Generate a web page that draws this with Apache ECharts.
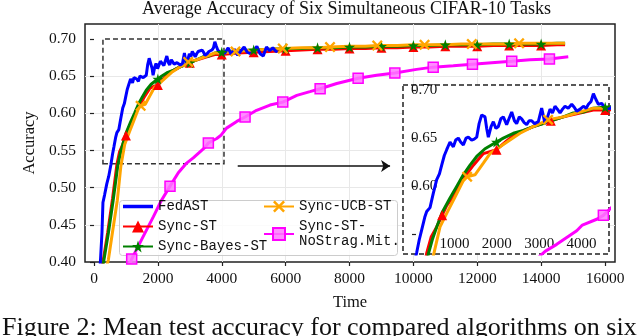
<!DOCTYPE html>
<html>
<head>
<meta charset="UTF-8">
<title>Average Accuracy</title>
<script src="https://cdn.jsdelivr.net/npm/echarts@6/dist/echarts.min.js"></script>
</head>
<body style="margin:0">
<div id="main" style="width: 640px;height:336px;"></div>
<script type="text/javascript">
// tick labels
var xTicks = [0, 2000, 4000, 6000, 8000, 10000, 12000, 14000, 16000];
var yTicks = [0.40, 0.45, 0.50, 0.55, 0.60, 0.65, 0.70];
var insetYTicks = [0.55, 0.60, 0.65, 0.70];
var insetYLabels = [0.60, 0.65, 0.70];
var insetXLabels = [1000, 2000, 3000, 4000];

// zoomed region and arrow (data coordinates)
var insetRangeX = [280, 4070];
var insetRangeY = [0.530, 0.705];
var boxY = [0.532, 0.70];
var arrowX = [4500, 9270];
var arrowY = 0.529;

// FedAST
var fedX = [150,200,250,280,330,400,460,530,580,624,680,716,777,838,900,950,992,1040,1084,1145,
  1206,1250,1298,1340,1390,1440,1482,1543,1590,1636,1680,1728,1789,1820,1850,1900,1942,1990,2034,2080,
  2126,2187,2230,2280,2330,2371,2420,2463,2510,2555,2600,2647,2700,2770,2831,2893,2940,2985,3030,3077,
  3120,3169,3215,3261,3320,3384,3430,3476,3540,3599,3650,3691,3740,3783,3830,3875,3937,3998,4100,4200,
  4300,4400,4500,4600,4700,4800,4900,5000,5100,5200,5300,5400,5500,5600,5700,5750];
var fedY = [0.37,0.40,0.44,0.48,0.49,0.505,0.515,0.531,0.545,0.555,0.568,0.574,0.578,0.593,0.607,0.613,0.622,0.632,0.638,0.646,
  0.641,0.648,0.650,0.646,0.643,0.650,0.651,0.648,0.649,0.651,0.665,0.674,0.672,0.660,0.651,0.662,0.667,0.660,0.662,0.670,
  0.672,0.664,0.670,0.677,0.668,0.665,0.672,0.670,0.666,0.664,0.668,0.668,0.665,0.667,0.681,0.665,0.672,0.680,0.676,0.683,
  0.680,0.676,0.680,0.683,0.681,0.685,0.682,0.678,0.680,0.683,0.681,0.685,0.688,0.696,0.690,0.685,0.686,0.680,0.681,0.688,
  0.679,0.686,0.678,0.684,0.689,0.682,0.680,0.684,0.690,0.680,0.677,0.689,0.684,0.688,0.683,0.684];

// Sync-ST
var stX = [200,280,430,580,716,800,900,1000,1084,1206,1390,1575,1758,2000,2187,2371,2678,3000,3230,3537,3782,4000,
  4500,5000,5500,6000,6500,7000,7500,8000,8500,9000,9500,10000,10500,11000,11500,12000,12500,13000,13500,14000,14500,14750];
var stY = [0.375,0.40,0.44,0.485,0.531,0.548,0.558,0.570,0.580,0.590,0.608,0.622,0.634,0.638,0.647,0.655,0.662,0.668,0.672,0.676,0.679,0.679,
  0.681,0.682,0.683,0.684,0.685,0.686,0.686,0.687,0.687,0.688,0.688,0.689,0.689,0.690,0.690,0.690,0.691,0.691,0.691,0.691,0.692,0.692];
var stMarks = [1000,2000,3000,4000,5000,6000,7000,8000,9000,10000,11000,12000,13000,14000];
var stInsetMarks = [1000,2000,3000,4000];

// Sync-Bayes-ST
var bayesX = [200,300,450,600,746,820,900,1000,1145,1268,1390,1513,1636,1789,2000,2126,2310,2494,2678,2862,3000,3230,3414,3598,3782,4000,
  4500,5000,5500,6000,6500,7000,7500,8000,8500,9000,9500,10000,10500,11000,11500,12000,12500,13000,13500,14000,14500,14750];
var bayesY = [0.37,0.40,0.439,0.483,0.530,0.545,0.558,0.573,0.588,0.600,0.612,0.622,0.631,0.639,0.646,0.650,0.655,0.658,0.662,0.665,0.668,0.672,0.676,0.677,0.681,0.682,
  0.684,0.685,0.686,0.687,0.687,0.688,0.688,0.689,0.689,0.690,0.690,0.691,0.691,0.692,0.692,0.692,0.693,0.693,0.693,0.693,0.694,0.694];
var bayesMarks = [2000,3000,4000,5000,6000,7000,8000,9000,10000,11000,12000,13000,14000];
var bayesInsetMarks = [2000,4000];

// Sync-UCB-ST
var ucbX = [250,450,575,730,838,961,1084,1237,1390,1460,1605,1758,1881,2065,2249,2433,2678,2950,3230,3537,3782,4000,
  4430,5000,5500,5910,6500,7000,7390,8000,8500,8870,9500,10000,10350,11000,11500,11830,12500,13000,13310,14000,14500,14750];
var ucbY = [0.37,0.403,0.439,0.483,0.528,0.558,0.572,0.589,0.606,0.610,0.612,0.624,0.634,0.641,0.648,0.655,0.662,0.669,0.672,0.677,0.681,0.681,
  0.683,0.685,0.686,0.687,0.688,0.688,0.689,0.690,0.690,0.691,0.691,0.692,0.692,0.692,0.693,0.693,0.693,0.693,0.694,0.694,0.694,0.694];
var ucbMarks = [1460,2950,4430,5910,7390,8870,10350,11830,13310];
var ucbInsetMarks = [1460,2950];

// Sync-ST-NoStrag.Mit.
var noX = [1050,1180,1490,1860,2100,2380,2640,2900,3108,3292,3476,3580,3844,3966,4150,4470,4730,5090,5510,5910,
  6350,6760,7080,7600,8270,8850,9420,10100,10620,11250,11850,12450,13080,13650,14260,14850];
var noY = [0.39,0.404,0.430,0.461,0.482,0.502,0.520,0.533,0.540,0.547,0.554,0.560,0.566,0.570,0.580,0.589,0.595,0.604,0.611,0.615,
  0.624,0.629,0.633,0.640,0.647,0.651,0.654,0.659,0.662,0.664,0.666,0.668,0.670,0.672,0.673,0.676];
var noMarks = [1180,2380,3580,4730,5910,7080,8270,9420,10620,11850,13080,14260];
var noInsetMarks = [3966];

var names = ['FedAST', 'Sync-ST', 'Sync-Bayes-ST', 'Sync-UCB-ST', 'Sync-ST-\nNoStrag.Mit.'];

var serif = 'Liberation Serif';
var mono = 'Liberation Mono';
var STAR = 'path://M50,0L61,35L98,35L68,57L79,91L50,70L21,91L32,57L2,35L39,35Z';
var CROSS = 'path://M0,1.5L1.5,0L5,3.5L8.5,0L10,1.5L6.5,5L10,8.5L8.5,10L5,6.5L1.5,10L0,8.5L3.5,5Z';
var BAR = 'path://M0,0L30,0L30,3.5L0,3.5Z';

function pts(xs, ys, marks) {
    return xs.map(function (x, i) {
        if (marks && marks.indexOf(x) >= 0) return { value: [x, ys[i]] };
        return { value: [x, ys[i]], symbol: 'none' };
    });
}

var styles = [
    { color: '#0000ff', symbol: 'none', size: 0 },
    { color: '#ff0000', symbol: 'triangle', size: 10 },
    { color: '#008000', symbol: STAR, size: 11 },
    { color: '#ffa500', symbol: CROSS, size: 11 },
    { color: '#ff00ff', symbol: 'rect', size: 10 }
];
var mainData = [pts(fedX, fedY, null), pts(stX, stY, stMarks), pts(bayesX, bayesY, bayesMarks),
    pts(ucbX, ucbY, ucbMarks), pts(noX, noY, noMarks)];
var insetData = [pts(fedX, fedY, null), pts(stX, stY, stInsetMarks), pts(bayesX, bayesY, bayesInsetMarks),
    pts(ucbX, ucbY, ucbInsetMarks), pts(noX, noY, noInsetMarks)];

function makeSeries(k, data, inset) {
    var st = styles[k];
    var s = {
        type: 'line',
        name: names[k],
        data: data,
        xAxisIndex: inset ? 1 : 0,
        yAxisIndex: inset ? 1 : 0,
        symbol: st.symbol,
        symbolSize: st.size,
        showSymbol: true,
        showAllSymbol: true,
        clip: true,
        lineStyle: { color: st.color, width: 3 },
        itemStyle: { color: st.color },
        emphasis: { disabled: true }
    };
    if (k === 4) {
        s.itemStyle = { color: 'rgba(255,120,255,0.85)', borderColor: '#ff00ff', borderWidth: 1.5 };
    }
    return s;
}

var series = [];
[1, 2, 3, 0, 4].forEach(function (k) { series.push(makeSeries(k, mainData[k], false)); });
[1, 2, 3, 0, 4].forEach(function (k) { series.push(makeSeries(k, insetData[k], true)); });

// zoom box and arrow live on the main NoStrag series
series[4].markArea = {
    silent: true,
    label: { show: false },
    itemStyle: { color: 'rgba(0,0,0,0)', borderColor: '#333', borderWidth: 1.5, borderType: [5, 3] },
    data: [[{ coord: [insetRangeX[0], boxY[0]] }, { coord: [insetRangeX[1], boxY[1]] }]]
};
series[4].markLine = {
    silent: true,
    symbol: ['none', 'arrow'],
    symbolSize: 9,
    label: { show: false },
    lineStyle: { color: '#111', width: 1.5, type: 'solid' },
    data: [[{ coord: [arrowX[0], arrowY] }, { coord: [arrowX[1], arrowY] }]]
};

var myChart = echarts.init(document.getElementById('main'));
var legendText = { fontFamily: mono, fontSize: 14, color: '#111', lineHeight: 15 };
var legendBase = { orient: 'vertical', itemWidth: 30, itemHeight: 15, itemGap: 5, padding: 0,
    textStyle: legendText, selectedMode: false };
var plain = function (v) { return String(v); };

myChart.setOption({
    animation: false,
    title: [
        { text: 'Average Accuracy of Six Simultaneous CIFAR-10 Tasks', left: 142, top: 0, padding: 0,
          textStyle: { fontFamily: serif, fontSize: 18, fontWeight: 'normal', color: '#111' } },
        { text: 'Figure 2: Mean test accuracy for compared algorithms on six', left: 2, top: 315, padding: 0,
          textStyle: { fontFamily: serif, fontSize: 26, fontWeight: 'normal', color: '#111' } }
    ],
    graphic: [{
        type: 'rect', left: 119, top: 200, z: 3,
        shape: { width: 278, height: 55, r: 3 },
        style: { fill: 'rgba(255,255,255,0.8)', stroke: '#cccccc', lineWidth: 1 }
    }],
    legend: [
        Object.assign({ data: [{ name: names[0], icon: BAR }, names[1], names[2]], left: 122, top: 199 }, legendBase),
        Object.assign({ data: [names[3]], left: 263, top: 199 }, legendBase),
        Object.assign({ data: [names[4]], left: 263, top: 219 }, legendBase)
    ],
    grid: [
        { left: 85, top: 24, width: 530, height: 238, show: true, backgroundColor: 'rgba(0,0,0,0)',
          borderColor: '#222', borderWidth: 1.5 },
        { left: 403, top: 85, width: 206, height: 169, show: true, z: 1, backgroundColor: '#fff',
          borderColor: '#222', borderWidth: 1.5, borderType: [5, 3] }
    ],
    xAxis: [
        { type: 'value', gridIndex: 0, min: -282, max: 16313, splitNumber: 8,
          name: 'Time', nameLocation: 'middle', nameGap: 32,
          nameTextStyle: { fontFamily: serif, fontSize: 16.5, color: '#111' },
          axisLine: { show: false },
          axisTick: { show: true, customValues: xTicks, length: 4, lineStyle: { color: '#222', width: 1.2 } },
          axisLabel: { customValues: xTicks, formatter: plain, fontFamily: serif, fontSize: 15.5, color: '#111', margin: 9 },
          splitLine: { show: true, showMinLine: false, showMaxLine: false, lineStyle: { color: '#e8e8e8', width: 1 } } },
        { type: 'value', gridIndex: 1, min: insetRangeX[0], max: insetRangeX[1], show: false },
        { type: 'value', gridIndex: 1, position: 'bottom', min: -212, max: 4646, z: 3,
          axisLine: { show: false }, axisTick: { show: false }, splitLine: { show: false },
          axisLabel: { inside: true, customValues: insetXLabels, formatter: plain, margin: 2,
                       fontFamily: serif, fontSize: 15, color: '#111' } }
    ],
    yAxis: [
        { type: 'value', gridIndex: 0, min: 0.40, max: 0.72, interval: 0.05,
          name: 'Accuracy', nameLocation: 'middle', nameGap: 38,
          nameTextStyle: { fontFamily: serif, fontSize: 16.5, color: '#111' },
          axisLine: { show: false },
          axisTick: { show: true, customValues: yTicks, length: 4, lineStyle: { color: '#222', width: 1.2 } },
          axisLabel: { customValues: yTicks, fontFamily: serif, fontSize: 15.5, color: '#111', margin: 9,
                       formatter: function (v) { return v.toFixed(2); } },
          splitLine: { show: true, showMinLine: false, showMaxLine: false, lineStyle: { color: '#e8e8e8', width: 1 } } },
        { type: 'value', gridIndex: 1, min: insetRangeY[0], max: insetRangeY[1], z: 3,
          axisLine: { show: false }, splitLine: { show: false },
          axisTick: { show: true, inside: true, customValues: insetYTicks, length: 4, lineStyle: { color: '#222', width: 1.2 } },
          axisLabel: { inside: true, customValues: insetYLabels, margin: 8, fontFamily: serif, fontSize: 15, color: '#111',
                       formatter: function (v) { return v.toFixed(2); } } }
    ],
    series: series
});
</script>
</body>
</html>
